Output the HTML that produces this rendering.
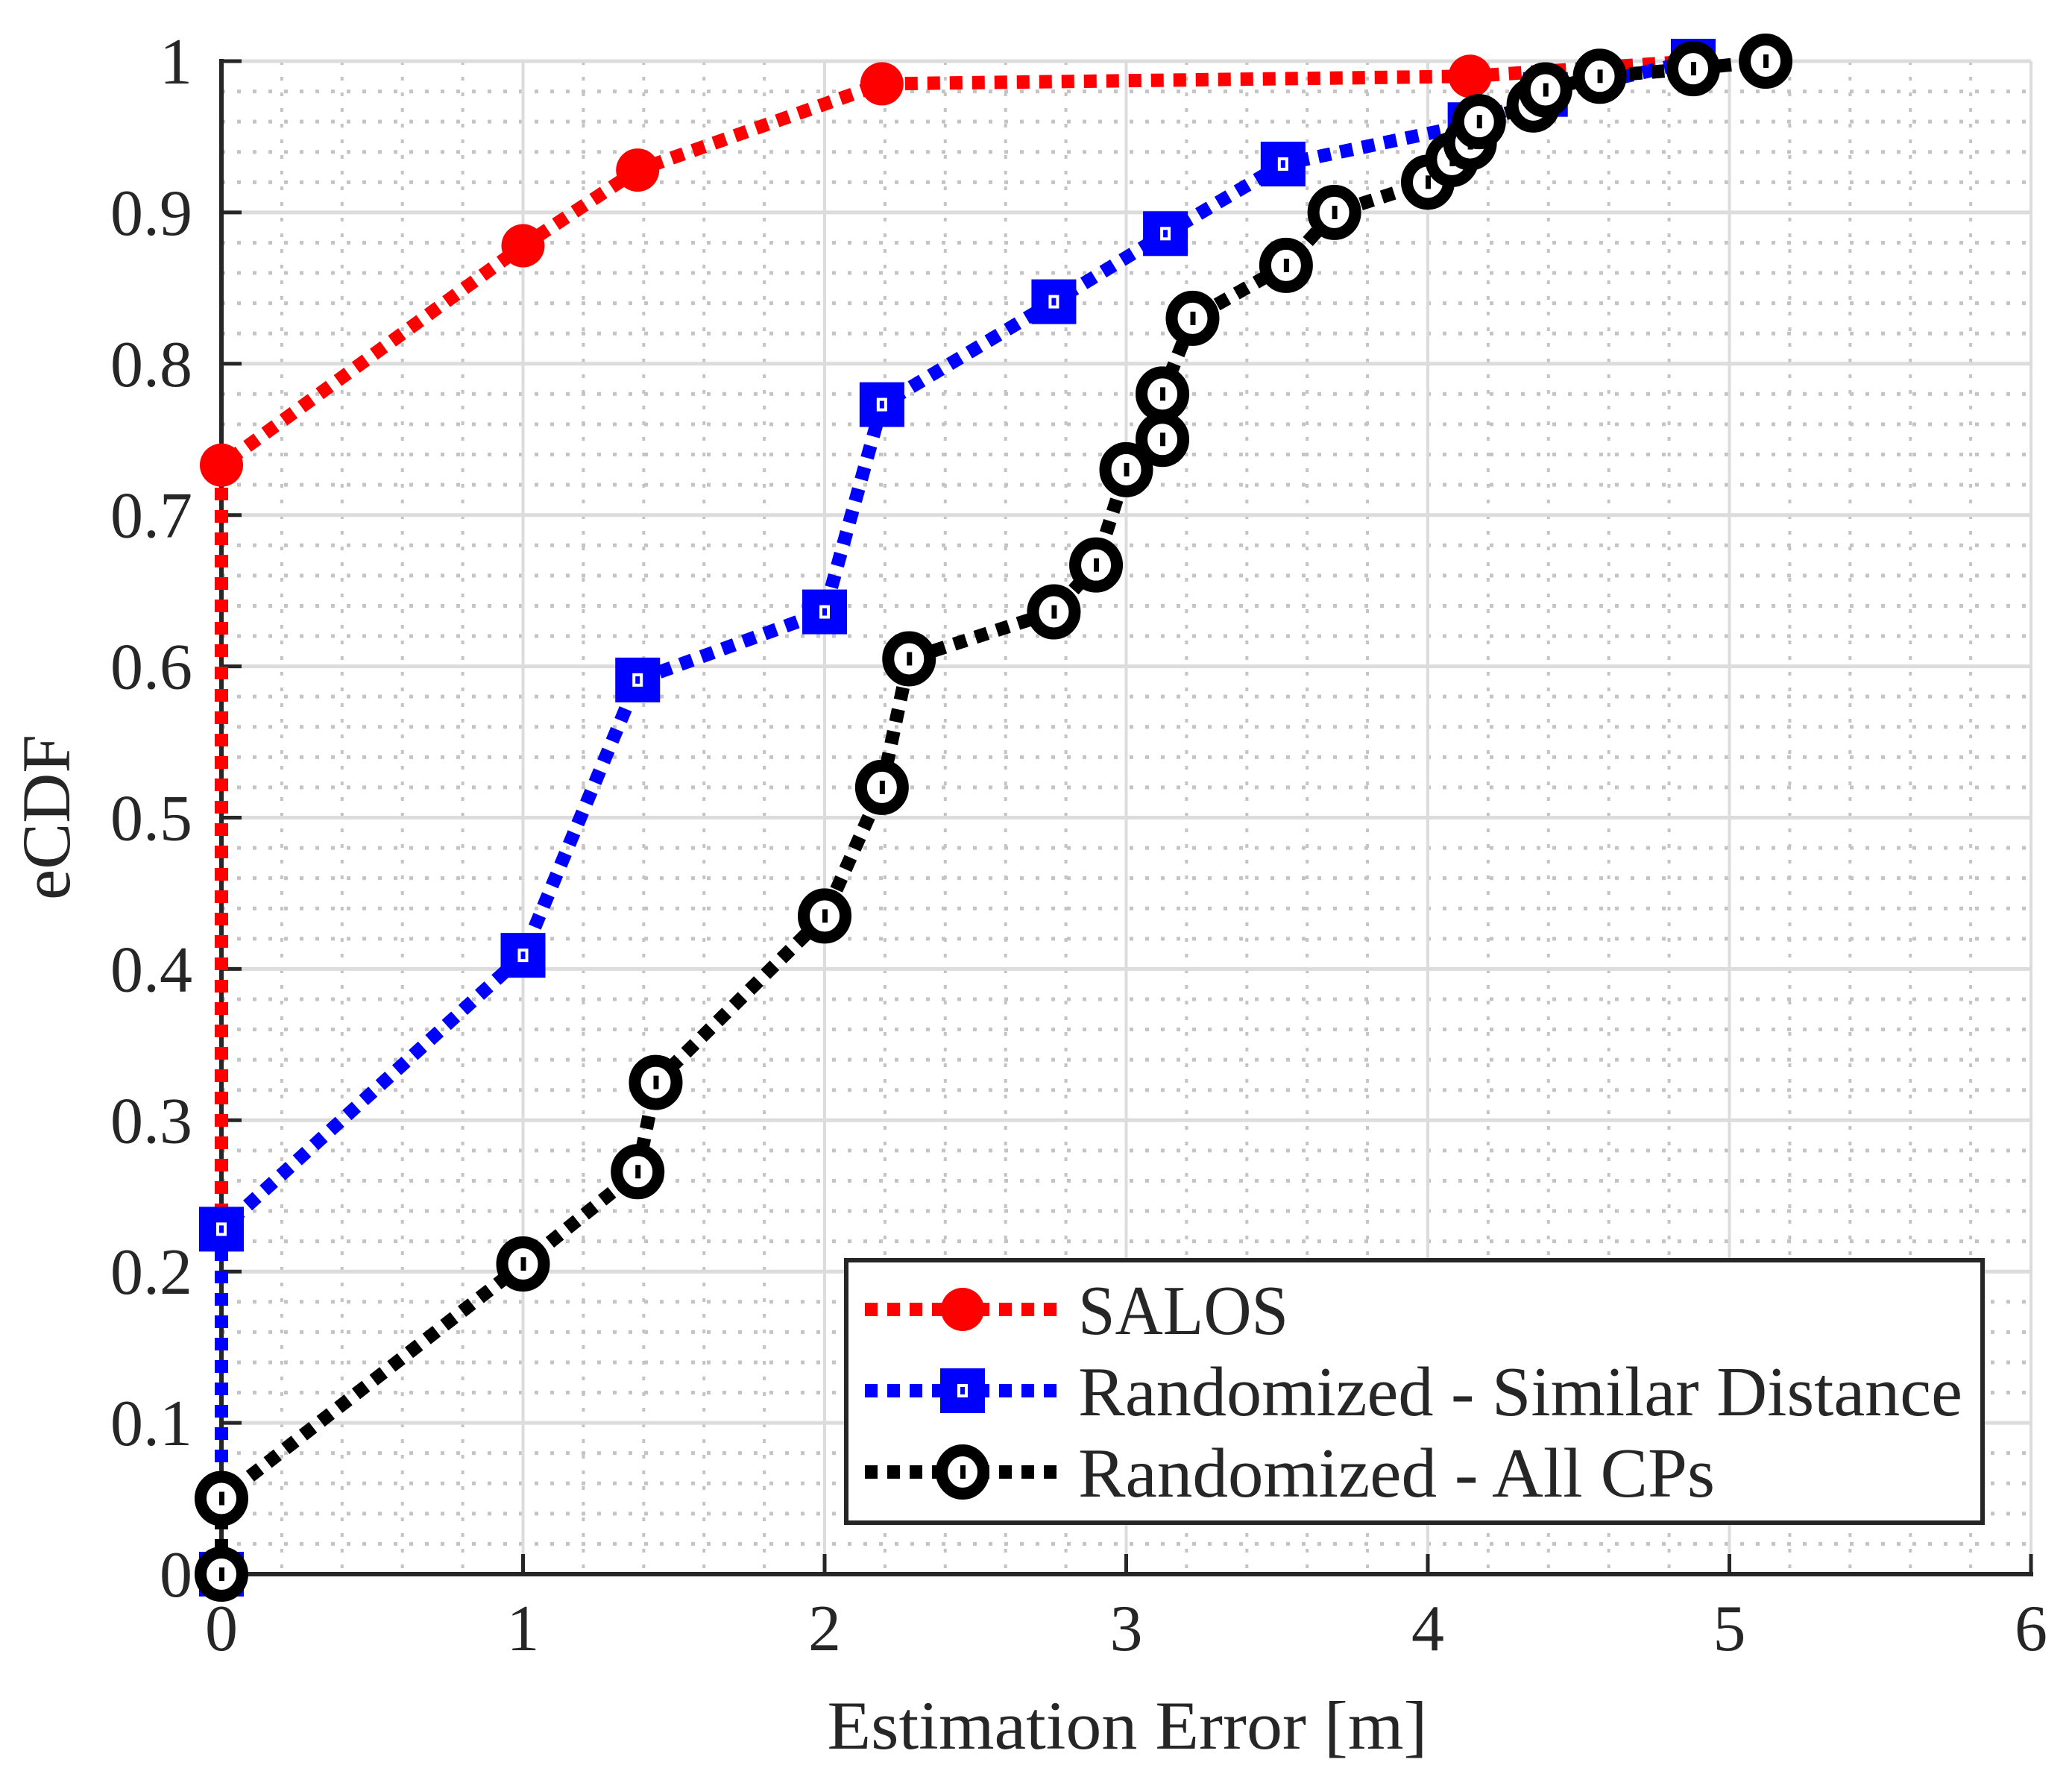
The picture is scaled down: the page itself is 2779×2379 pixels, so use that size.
<!DOCTYPE html>
<html><head><meta charset="utf-8"><style>
html,body{margin:0;padding:0;background:#fff}
svg{display:block}
text{font-family:"Liberation Serif",serif;fill:#262626}
</style></head><body>
<svg id="chart" width="2779" height="2379" viewBox="0 0 2779 2379" xmlns="http://www.w3.org/2000/svg">
<g id="grid"></g>
<g id="axes"></g>
<g id="series"></g>
<g id="legend"></g>
</svg>
<script>
const xTicks = [0,1,2,3,4,5,6];
const yTicks = [0,0.1,0.2,0.3,0.4,0.5,0.6,0.7,0.8,0.9,1];
const yTickLabels = ["0","0.1","0.2","0.3","0.4","0.5","0.6","0.7","0.8","0.9","1"];
const salosX = [0,0,1,1.38,2.19,4.14,4.88];
const salosY = [0,0.733,0.878,0.928,0.985,0.99,1.0];
const simX = [0,0,1,1.38,2,2.19,2.76,3.13,3.52,4.14,4.39,4.88];
const simY = [0,0.228,0.409,0.591,0.636,0.773,0.841,0.886,0.932,0.958,0.978,1.0];
const allX = [0,0,1,1.38,1.44,2,2.19,2.28,2.76,2.9,3.0,3.12,3.12,3.22,3.53,3.69,4.0,4.08,4.14,4.17,4.35,4.39,4.57,4.88,5.12];
const allY = [0,0.05,0.205,0.266,0.325,0.435,0.52,0.605,0.636,0.667,0.73,0.75,0.78,0.83,0.865,0.9,0.92,0.935,0.946,0.96,0.971,0.981,0.99,0.995,1.0];
const legendLabels = ["SALOS","Randomized - Similar Distance","Randomized - All CPs"];

const NS="http://www.w3.org/2000/svg";
const X0=297, X1=2724, Y0=2111, Y1=82;
const sx=v=>X0+(v-0)/(6-0)*(X1-X0);
const sy=v=>Y0-(v-0)/(1-0)*(Y0-Y1);
function mk(tag,attrs,parent){const e=document.createElementNS(NS,tag);for(const k in attrs)e.setAttribute(k,attrs[k]);parent.appendChild(e);return e;}
const grid=document.getElementById('grid'), axes=document.getElementById('axes'), series=document.getElementById('series'), legend=document.getElementById('legend');

for(let i=1;i<30;i++){ if(i%5===0) continue; const x=sx(i*0.2);
  const l=mk('line',{x1:x,y1:Y1,x2:x,y2:Y0,stroke:'#c4c4c4','stroke-width':4,'stroke-dasharray':'5 16'},grid);
   }
for(let i=1;i<50;i++){ if(i%5===0) continue; const y=sy(i*0.02);
  const l=mk('line',{x1:X0,y1:y,x2:X1,y2:y,stroke:'#c4c4c4','stroke-width':5,'stroke-dasharray':'5 16'},grid);
   }
xTicks.forEach(t=>{ if(t===0) return; const l=mk('line',{x1:sx(t),y1:Y1,x2:sx(t),y2:Y0,stroke:'#dcdcdc','stroke-width':4},grid);
   });
yTicks.forEach(t=>{ if(t===0) return; const l=mk('line',{x1:X0,y1:sy(t),x2:X1,y2:sy(t),stroke:'#dcdcdc','stroke-width':5},grid);
   });

let a=mk('line',{x1:X0,y1:Y1-3,x2:X0,y2:Y0+3,stroke:'#262626','stroke-width':6},axes);
 
a=mk('line',{x1:X0-3,y1:Y0,x2:X1+3,y2:Y0,stroke:'#262626','stroke-width':6},axes);
 
xTicks.forEach(t=>{
  const tk=mk('line',{x1:sx(t),y1:Y0,x2:sx(t),y2:Y0-27,stroke:'#262626','stroke-width':5},axes);
   
  const tx=mk('text',{x:sx(t),y:2213,'font-size':88,'text-anchor':'middle'},axes); tx.textContent=String(t);
   
});
yTicks.forEach((t,i)=>{
  const tk=mk('line',{x1:X0,y1:sy(t),x2:X0+27,y2:sy(t),stroke:'#262626','stroke-width':5},axes);
   
  const tx=mk('text',{x:258,y:sy(t)+30,'font-size':88,'text-anchor':'end'},axes); tx.textContent=yTickLabels[i];
   
});
let t=mk('text',{x:1512,y:2345,'font-size':92,'text-anchor':'middle',textLength:805,lengthAdjust:'spacingAndGlyphs'},axes); t.textContent='Estimation Error [m]';
 
t=mk('text',{x:0,y:0,'font-size':92,'text-anchor':'middle',transform:'translate(93,1096) rotate(-90)',textLength:222,lengthAdjust:'spacingAndGlyphs'},axes); t.textContent='eCDF';
 

function marker(kind,x,y,parent){
  const g=mk('g',{},parent);
  if(kind==='circle'){ mk('circle',{cx:x,cy:y,r:29,fill:'#ff0000'},g); }
  else if(kind==='square'){ mk('rect',{x:x-30,y:y-30,width:60,height:60,fill:'#0000ff'},g); mk('rect',{x:x-7,y:y-9,width:14,height:18,fill:'#fff'},g); mk('rect',{x:x-3,y:y-5,width:6,height:10,fill:'#0000ff'},g); }
  else { mk('ellipse',{cx:x,cy:y,rx:28,ry:29,fill:'#fff',stroke:'#000','stroke-width':16},g); mk('rect',{x:x-3,y:y-9,width:7,height:18,fill:'#000'},g); }
  return g;
}
function drawSeries(xs,ys,color,kind,name){
  const g=mk('g',{},series);
   
  const pts=xs.map((v,i)=>sx(v)+','+sy(ys[i])).join(' ');
  const pl=mk('polyline',{points:pts,fill:'none',stroke:color,'stroke-width':18,'stroke-dasharray':'17 13'},g);
   
  xs.forEach((v,i)=>{const m=marker(kind,sx(v),sy(ys[i]),g);
     });
}
drawSeries(salosX,salosY,'#ff0000','circle','salos-series');
drawSeries(simX,simY,'#0000ff','square','similar-distance-series');
drawSeries(allX,allY,'#000000','ring','all-cps-series');

const lb=mk('rect',{x:1135,y:1690,width:1524,height:352,fill:'#fff',stroke:'#262626','stroke-width':6},legend);
 
const rows=[1756,1865,1974], cols=['#ff0000','#0000ff','#000000'], kinds=['circle','square','ring'], lens=[282,1186,854];
legendLabels.forEach((lab,i)=>{
  const g=mk('g',{},legend);
   
  mk('line',{x1:1160,y1:rows[i],x2:1422,y2:rows[i],stroke:cols[i],'stroke-width':18,'stroke-dasharray':'17 13'},g);
  marker(kinds[i],1291,rows[i],g);
  const tx=mk('text',{x:1446,y:rows[i]+33,'font-size':94,fill:'#000',textLength:lens[i],lengthAdjust:'spacingAndGlyphs'},g);
  tx.textContent=lab;
   
});
</script>
</body></html>
